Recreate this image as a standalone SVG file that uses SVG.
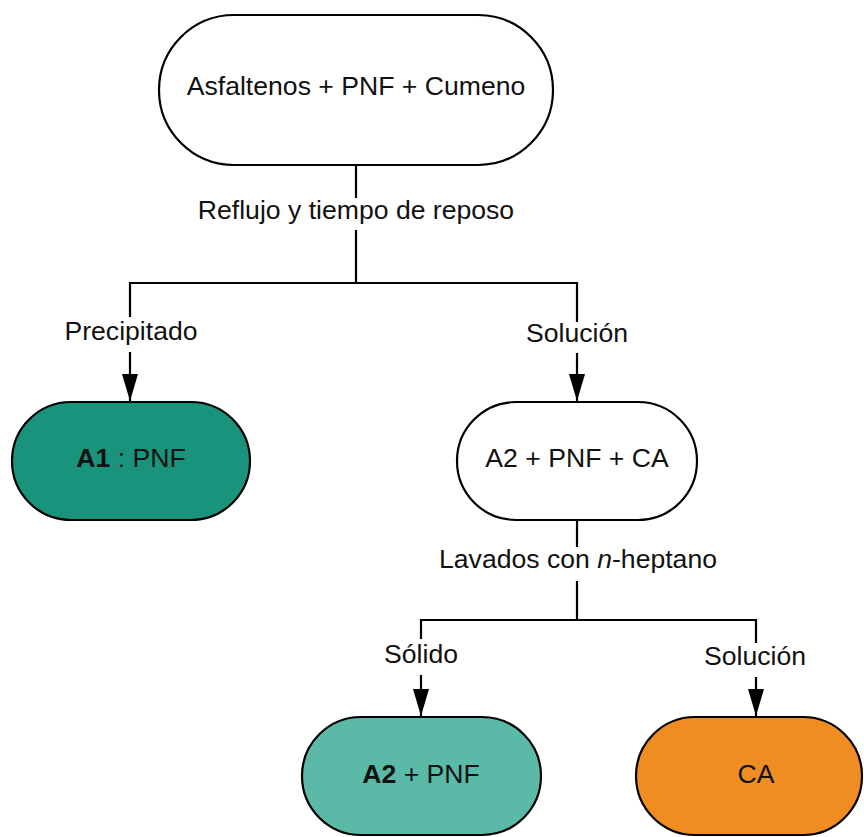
<svg xmlns="http://www.w3.org/2000/svg" width="864" height="837" viewBox="0 0 864 837">
  <style>
    .node { stroke: #000; stroke-width: 2.2; }
    .t { font-family: "Liberation Sans", Arial, sans-serif; font-size: 26.6px; fill: #111; text-anchor: middle; }
    .b { font-weight: bold; }
    .conn { fill: none; stroke: #000; stroke-width: 2.2; }
    .lblbg { fill: #fff; stroke: none; }
  </style>
  <defs>
    <marker id="arrow" viewBox="0 0 27 16" refX="27" refY="8" markerWidth="27" markerHeight="16" markerUnits="userSpaceOnUse" orient="auto">
      <path d="M0,0 L27,8 L0,16 Z" fill="#000"/>
    </marker>
  </defs>
  <rect width="864" height="837" fill="#fff"/>

  <g id="connectors">
    <path class="conn" d="M356,165 V283"/>
    <path class="conn" d="M130,283 H577"/>
    <path class="conn" d="M130,282 V401" marker-end="url(#arrow)"/>
    <path class="conn" d="M577,282 V401" marker-end="url(#arrow)"/>
    <path class="conn" d="M577,520 V620"/>
    <path class="conn" d="M421,620 H756"/>
    <path class="conn" d="M421,619 V716" marker-end="url(#arrow)"/>
    <path class="conn" d="M756,619 V716" marker-end="url(#arrow)"/>
  </g>

  <g id="labels">
    <rect class="lblbg" x="192" y="198" width="328" height="32"/>
    <text class="t" x="356" y="219">Reflujo y tiempo de reposo</text>
    <rect class="lblbg" x="60" y="317" width="142" height="35"/>
    <text class="t" x="131" y="340">Precipitado</text>
    <rect class="lblbg" x="520" y="322" width="114" height="31"/>
    <text class="t" x="577" y="342">Solución</text>
    <rect class="lblbg" x="434" y="547" width="288" height="34"/>
    <text class="t" x="578" y="568">Lavados con <tspan font-style="italic">n</tspan>-heptano</text>
    <rect class="lblbg" x="378" y="639" width="86" height="36"/>
    <text class="t" x="421" y="663">Sólido</text>
    <rect class="lblbg" x="699" y="643" width="114" height="34"/>
    <text class="t" x="755" y="665">Solución</text>
  </g>

  <g id="node-start">
    <rect class="node" x="159" y="15" width="394" height="150" rx="75" ry="75" fill="#fff"/>
    <text class="t" x="356" y="95">Asfaltenos + PNF + Cumeno</text>
  </g>

  <g id="node-a1">
    <rect class="node" x="12" y="402" width="238" height="118" rx="59" ry="59" fill="#1a937c"/>
    <text class="t" x="131" y="467"><tspan class="b">A1</tspan> : PNF</text>
  </g>

  <g id="node-a2-pnf-ca">
    <rect class="node" x="457" y="402" width="240" height="118" rx="59" ry="59" fill="#fff"/>
    <text class="t" x="577" y="467">A2 + PNF + CA</text>
  </g>

  <g id="node-a2-pnf">
    <rect class="node" x="302" y="717" width="239" height="118" rx="59" ry="59" fill="#5abaa7"/>
    <text class="t" x="421" y="783"><tspan class="b">A2</tspan> + PNF</text>
  </g>

  <g id="node-ca">
    <rect class="node" x="636" y="717" width="226" height="118" rx="59" ry="59" fill="#ef8d22"/>
    <text class="t" x="756" y="783">CA</text>
  </g>
</svg>
